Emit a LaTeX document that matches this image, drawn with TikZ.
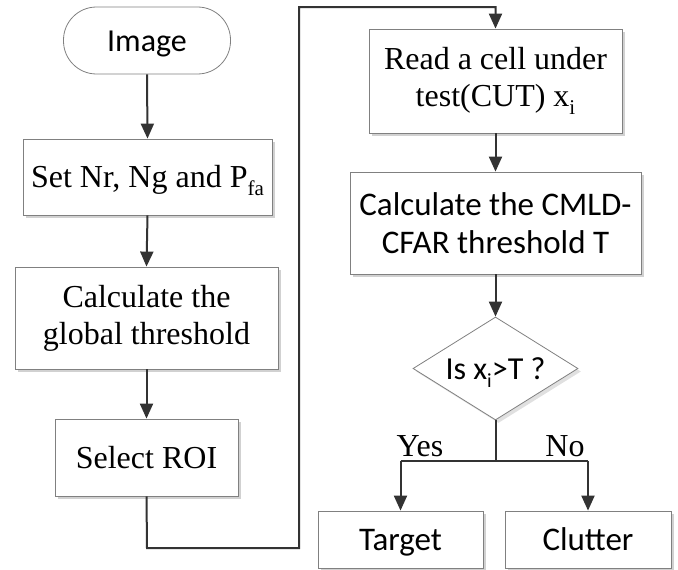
\documentclass[tikz,border=0pt]{standalone}
\usepackage{fontspec}
\setmainfont{Liberation Serif}
\newfontfamily\sansf{Carlito}
\usetikzlibrary{shapes.geometric,shadows,arrows.meta}
\begin{document}
\begin{tikzpicture}[x=1pt,y=-1pt,
  box/.style={draw=black!50, line width=0.8pt, fill=white, inner sep=0pt, align=center,
    font=\fontsize{32}{37}\selectfont,
    drop shadow={shadow xshift=3pt, shadow yshift=-3pt, fill=black!18, opacity=1}},
  sbox/.style={box, font=\sansf\fontsize{33}{38}\selectfont},
  oneline/.style={text height=21pt, text depth=0pt},
  conn/.style={draw=black!80, line width=2pt},
  arr/.style={conn, -{Triangle[length=15pt,width=13pt]}},
  lbl/.style={font=\fontsize{32}{37}\selectfont, inner sep=0pt}
]
\useasboundingbox (0,0) rectangle (678,570);
\node[draw=black!50, line width=0.8pt, rounded corners=33pt, minimum width=167pt, minimum height=67pt, inner sep=0pt, oneline, font=\sansf\fontsize{32}{37}\selectfont] (img) at (147,40.5) {Image};
\node[box, oneline, minimum width=249pt, minimum height=76pt] (set) at (147.5,177) {Set Nr, Ng and P\raisebox{-0.25em}{\fontsize{21}{21}\selectfont fa}};
\node[box, minimum width=263pt, minimum height=102pt] (glob) at (146.5,318) {Calculate the\\global threshold};
\node[box, oneline, minimum width=183pt, minimum height=77pt] (roi) at (146.5,457.5) {Select ROI};
\node[box, minimum width=253pt, minimum height=104pt] (read) at (495.5,81) {Read a cell under\\test(CUT) x\raisebox{-0.25em}{\fontsize{21}{21}\selectfont i}};
\node[sbox, minimum width=291pt, minimum height=102pt] (cmld) at (495.5,223) {Calculate the CMLD-\\CFAR threshold T};
\node[diamond, draw=black!50, line width=0.8pt, fill=white, inner sep=0pt, minimum width=165pt, minimum height=103pt, shape aspect=1.6,
  drop shadow={shadow xshift=3pt, shadow yshift=-3pt, fill=black!12, opacity=1},
  oneline, font=\sansf\fontsize{32}{37}\selectfont] (dec) at (495.5,368.5) {Is x\raisebox{-0.25em}{\fontsize{20}{20}\selectfont i}>T ?};
\node[sbox, oneline, minimum width=165pt, minimum height=57pt] (tgt) at (400.5,539.5) {Target};
\node[sbox, oneline, minimum width=166pt, minimum height=57pt] (clt) at (588,539.5) {Clutter};
\coordinate (c1) at (147,548);
\coordinate (c2) at (299,548);
\coordinate (c3) at (299,7);
\coordinate (c4) at (495.5,7);
\coordinate (br) at (495.5,461);
\coordinate (bl) at (400.5,461);
\coordinate (bc) at (588,461);
\draw[arr] (img.south) -- (set.north);
\draw[arr] (set.south) -- (glob.north);
\draw[arr] (glob.south) -- (roi.north);
\draw[arr] (roi.south) -- (c1) -- (c2) -- (c3) -- (c4) -- (read.north);
\draw[arr] (read.south) -- (cmld.north);
\draw[arr] (cmld.south) -- (dec.north);
\draw[conn] (dec.south) -- (br);
\draw[arr] (bl) -- (tgt.north);
\draw[arr] (bc) -- (clt.north);
\draw[conn] (bl) -- (bc);
\node[lbl, anchor=base] (yes) at (420,456) {Yes};
\node[lbl, anchor=base] (no) at (565,456) {No};
\end{tikzpicture}
\end{document}
